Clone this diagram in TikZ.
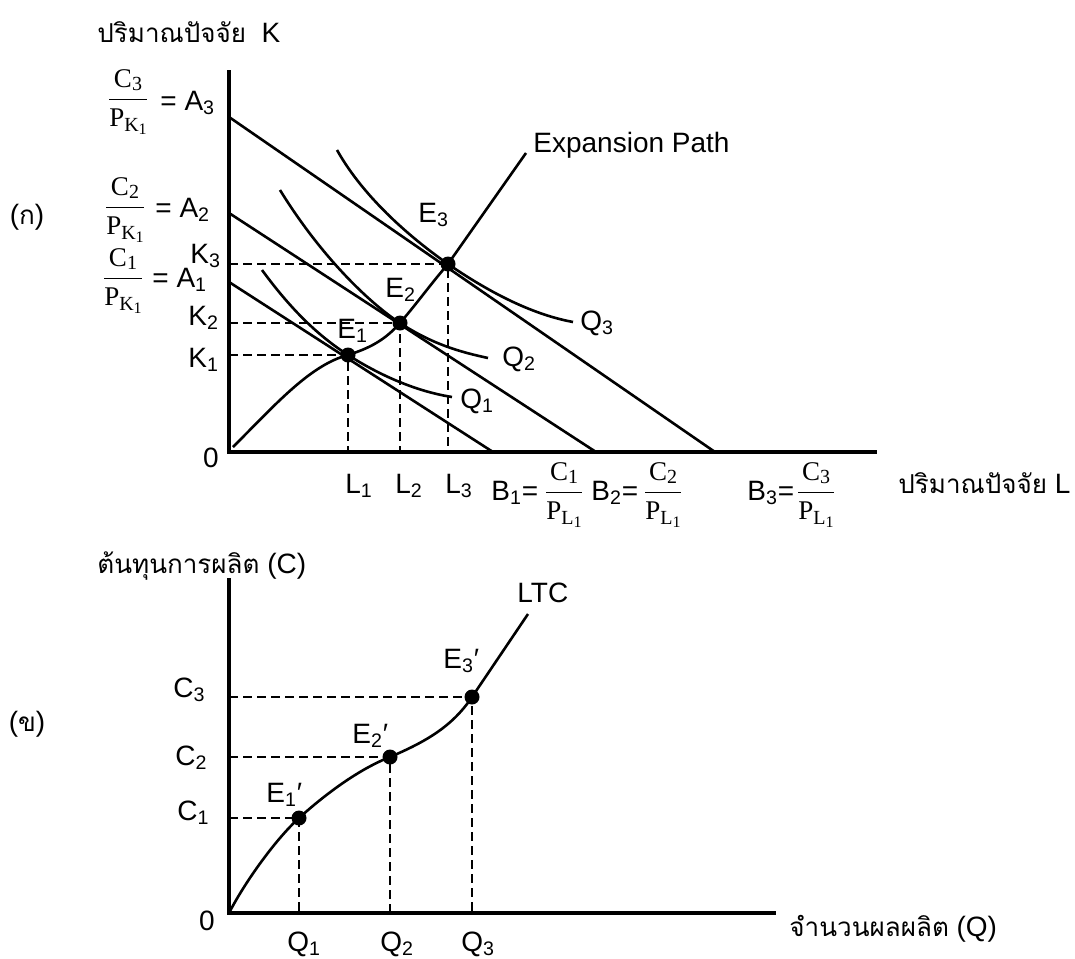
\documentclass[tikz,border=0pt]{standalone}
\usepackage{fontspec}
\usepackage{amsmath}
\setmainfont{Liberation Sans}
\newfontfamily\timesfont{Liberation Serif}
\newfontfamily\thaifont[Script=Thai,Scale=0.93]{Loma}
% C_n / P_{X_1}
\newcommand{\cpfrac}[2]{$\dfrac{\mbox{\timesfont\fontsize{13.5}{15}\selectfont C\raisebox{-0.3ex}{\fontsize{10}{11}\selectfont #1}}}%
  {\mbox{\timesfont\fontsize{13.5}{15}\selectfont P\raisebox{-0.4ex}{\fontsize{10}{11}\selectfont #2\raisebox{-0.35ex}{\fontsize{8}{9}\selectfont 1}}}}$}
\begin{document}
\begin{tikzpicture}[x=0.5pt, y=-0.5pt, font=\fontsize{14}{16}\selectfont,
  axisline/.style={line width=1.6pt},
  curveline/.style={line width=1.3pt},
  guideline/.style={line width=0.9pt, dash pattern=on 4.5pt off 2.5pt},
  eqdot/.style={circle, fill, inner sep=0pt, minimum size=7.5pt},
  lbl/.style={inner sep=0pt, anchor=base west},
  frc/.style={inner sep=0pt}]
  \useasboundingbox (0,0) rectangle (1075,958);

  % (ก) เส้นทางการขยาย
  \coordinate (O) at (229,452);
  \coordinate (Ktop) at (229,70);
  \coordinate (Lend) at (877,452);
  \draw[axisline] (Ktop) -- (O) -- (Lend);

  % เส้นต้นทุนเท่ากัน
  \coordinate (A1) at (229,282); \coordinate (B1) at (493,452);
  \coordinate (A2) at (229,213); \coordinate (B2) at (596,452);
  \coordinate (A3) at (229,117); \coordinate (B3) at (715,452);
  \draw[curveline] (A1) -- (B1);
  \draw[curveline] (A2) -- (B2);
  \draw[curveline] (A3) -- (B3);

  \coordinate (E1) at (348,355);
  \coordinate (E2) at (400,323);
  \coordinate (E3) at (448,264);

  % เส้นผลผลิตเท่ากัน
  \draw[curveline] (262,270) .. controls (295,315) and (322,338) .. (E1)
    .. controls (384,378) and (420,392) .. (452,397);
  \draw[curveline] (280,190) .. controls (320,255) and (368,302) .. (E2)
    .. controls (432,344) and (460,352) .. (488,358);
  \draw[curveline] (337,150) .. controls (365,200) and (415,241) .. (E3)
    .. controls (493,295) and (535,315) .. (573,322);

  % expansion path
  \coordinate (Pstart) at (233,447);
  \coordinate (Pend) at (526,153);
  \draw[curveline] (Pstart) .. controls (275,405) and (310,365) .. (E1)
    .. controls (370,348) and (385,340) .. (E2)
    .. controls (418,302) and (430,285) .. (E3) -- (Pend);

  \draw[guideline] (E1 -| O) -- (E1) -- (E1 |- O);
  \draw[guideline] (E2 -| O) -- (E2) -- (E2 |- O);
  \draw[guideline] (E3 -| O) -- (E3) -- (E3 |- O);
  \node[eqdot] (dE1) at (E1) {};
  \node[eqdot] (dE2) at (E2) {};
  \node[eqdot] (dE3) at (E3) {};

  \node[lbl] (yK) at (97,42) {{\thaifont ปริมาณปัจจัย}\ \ K};
  \node[lbl] (xL) at (898,493) {{\thaifont ปริมาณปัจจัย} L};
  \node[frc] (pa) at (27,217) {({\thaifont ก})};
  \node[frc, anchor=base] (zero1) at (211,467) {0};
  \node[lbl] (pathlbl) at (533,152) {Expansion Path};
  \node[lbl] (lE1) at (337,338) {E\textsubscript{1}};
  \node[lbl] (lE2) at (385,297) {E\textsubscript{2}};
  \node[lbl] (lE3) at (418,222) {E\textsubscript{3}};
  \node[lbl] (lQ1) at (460,408) {Q\textsubscript{1}};
  \node[lbl] (lQ2) at (502,366) {Q\textsubscript{2}};
  \node[lbl] (lQ3) at (580,330) {Q\textsubscript{3}};
  \node[lbl] (lK3) at (190,263) {K\textsubscript{3}};
  \node[lbl] (lK2) at (188,325) {K\textsubscript{2}};
  \node[lbl] (lK1) at (188,367) {K\textsubscript{1}};
  \node[lbl] (lL1) at (345,493) {L\textsubscript{1}};
  \node[lbl] (lL2) at (395,493) {L\textsubscript{2}};
  \node[lbl] (lL3) at (445,493) {L\textsubscript{3}};

  \node[frc] (fA3) at (128,102) {\cpfrac{3}{K}};
  \node[lbl] (eA3) at (160,110) {= A\textsubscript{3}};
  \node[frc] (fA2) at (125,210) {\cpfrac{2}{K}};
  \node[lbl] (eA2) at (155,217) {= A\textsubscript{2}};
  \node[frc] (fA1) at (123,281) {\cpfrac{1}{K}};
  \node[lbl] (eA1) at (152,287) {= A\textsubscript{1}};

  \node[lbl] (nB1) at (491,500) {B\textsubscript{1}=};
  \node[frc] (fB1) at (564,495) {\cpfrac{1}{L}};
  \node[lbl] (nB2) at (591,500) {B\textsubscript{2}=};
  \node[frc] (fB2) at (663,495) {\cpfrac{2}{L}};
  \node[lbl] (nB3) at (747,500) {B\textsubscript{3}=};
  \node[frc] (fB3) at (816,495) {\cpfrac{3}{L}};

  % (ข) ต้นทุนระยะยาว
  \coordinate (O2) at (229,913);
  \coordinate (Ctop) at (229,578);
  \coordinate (Qend) at (776,913);
  \draw[axisline] (Ctop) -- (O2) -- (Qend);

  \coordinate (F1) at (299,818);
  \coordinate (F2) at (390,757);
  \coordinate (F3) at (472,697);
  \coordinate (Tend) at (528,614);
  \draw[curveline] (O2) .. controls (245,882) and (275,840) .. (F1)
    .. controls (330,790) and (362,768) .. (F2)
    .. controls (425,742) and (452,727) .. (F3) -- (Tend);

  \draw[guideline] (F1 -| O2) -- (F1) -- (F1 |- O2);
  \draw[guideline] (F2 -| O2) -- (F2) -- (F2 |- O2);
  \draw[guideline] (F3 -| O2) -- (F3) -- (F3 |- O2);
  \node[eqdot] (dF1) at (F1) {};
  \node[eqdot] (dF2) at (F2) {};
  \node[eqdot] (dF3) at (F3) {};

  \node[lbl] (yC) at (97,573) {{\thaifont ต้นทุนการผลิต} (C)};
  \node[lbl] (xQ) at (789,936) {{\thaifont จำนวนผลผลิต} (Q)};
  \node[frc] (pb) at (27,724) {({\thaifont ข})};
  \node[lbl] (ltc) at (517,602) {LTC};
  \node[lbl] (lF1) at (266,802) {E\textsubscript{1}′};
  \node[lbl] (lF2) at (352,743) {E\textsubscript{2}′};
  \node[lbl] (lF3) at (443,668) {E\textsubscript{3}′};
  \node[lbl] (lC3) at (173,697) {C\textsubscript{3}};
  \node[lbl] (lC2) at (175,765) {C\textsubscript{2}};
  \node[lbl] (lC1) at (177,820) {C\textsubscript{1}};
  \node[frc, anchor=base] (zero2) at (207,930) {0};
  \node[lbl] (lQa) at (287,951) {Q\textsubscript{1}};
  \node[lbl] (lQb) at (380,951) {Q\textsubscript{2}};
  \node[lbl] (lQc) at (461,951) {Q\textsubscript{3}};
\end{tikzpicture}
\end{document}
